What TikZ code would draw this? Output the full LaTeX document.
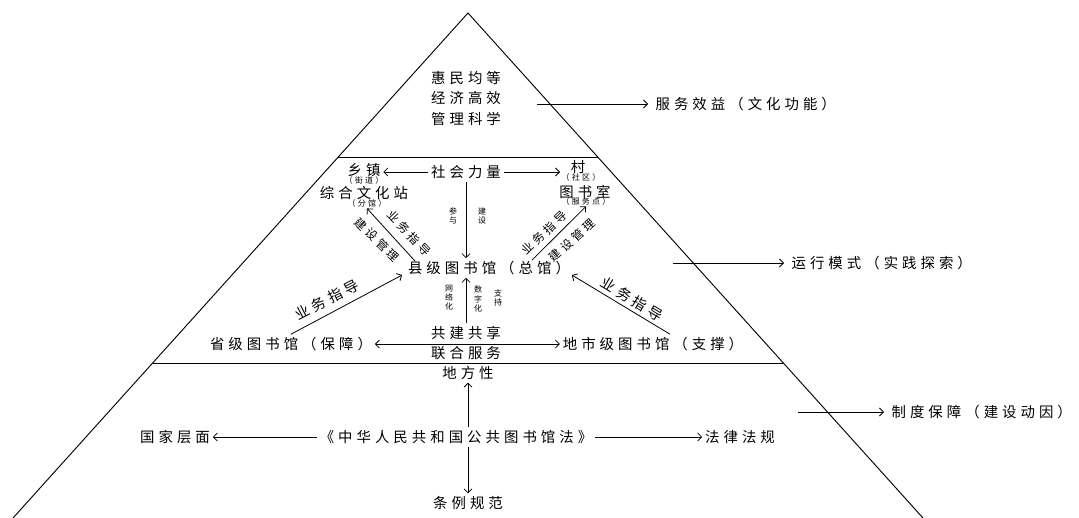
\documentclass[tikz,border=0pt]{standalone}
\usepackage{fontspec}
\usetikzlibrary{arrows.meta,calc}
\newfontfamily\cjk[LetterSpace=28]{Noto Sans CJK SC}
\newfontfamily\cjktight{Noto Sans CJK SC}

\begin{document}
\begin{tikzpicture}[x=0.75pt,y=-0.75pt,
    lbl/.style={font={\cjk\fontsize{10.8}{13}\selectfont},inner sep=2pt},
    side/.style={lbl,anchor=west,inner xsep=5.5pt},
    sublbl/.style={font={\cjk\fontsize{6}{7}\selectfont},inner sep=1pt},
    tiny/.style={font={\cjktight\fontsize{6}{6.8}\selectfont},align=center,inner sep=0pt},
    slant/.style={font={\cjk\fontsize{8.8}{10}\selectfont},inner sep=0pt},
    arr/.style={-{Straight Barb[length=3pt,width=6pt]},line width=0.6pt},
    dbl/.style={{Straight Barb[length=3pt,width=6pt]}-{Straight Barb[length=3pt,width=6pt]},line width=0.6pt},
    rim/.style={line width=0.7pt},
  ]
  \useasboundingbox (0,0) rectangle (1079,518);
  \coordinate (apex) at (468,13);
  \coordinate (bl) at (13,518);
  \coordinate (br) at (923,518);
  \draw[rim] (bl) -- (apex) -- (br);
  \draw[rim] ($(apex)!0.2851!(bl)$) -- ($(apex)!0.2851!(br)$);
  \draw[rim] ($(apex)!0.6931!(bl)$) -- ($(apex)!0.6931!(br)$);

  \foreach \t [count=\i] in {惠民均等,经济高效,管理科学}
    \node[lbl] (goal\i) at (466,{57.5+20.5*\i}) {\t};

  \foreach \nm/\sx/\ex/\y/\t in {benefit/537/648/104/服务效益（文化功能）,
      mode/673/784/263/运行模式（实践探索）,
      system/798/884/412/制度保障（建设动因）} {
    \coordinate (\nm0) at (\sx,\y);
    \node[side] (\nm) at (\ex,\y) {\t};
    \draw[arr] (\nm0) -- (\nm.west);
  }

  \node[lbl] (society) at (466,172) {社会力量};
  \node[lbl] (town) at (364,170) {乡镇};
  \node[sublbl] (townsub) at (364,180) {（街道）};
  \node[lbl] (village) at (578,167) {村};
  \node[sublbl] (villagesub) at (581,177) {（社区）};
  \node[lbl] (station) at (364,193) {综合文化站};
  \node[sublbl] (stationsub) at (367,203) {（分馆）};
  \node[lbl] (room) at (585,192) {图书室};
  \node[sublbl] (roomsub) at (586,201) {（服务点）};
  \node[lbl] (county) at (489,268) {县级图书馆（总馆）};

  \draw[arr] (society.west) -- (society.west -| town.east);
  \draw[arr] (society.east) -- (society.east -| villagesub.west);
  \draw[arr] (society.south) -- (society.south |- county.north);
  \node[tiny] (join) at (453,216) {参\\与};
  \node[tiny] (build) at (482,216) {建\\设};

  \draw[arr] ($(county.north west)+(10,3)$) -- (stationsub.south);
  \node[slant,rotate=-46] (guide1) at (409,233) {业务指导};
  \node[slant,rotate=-44] (manage1) at (377,240) {建设管理};
  \draw[arr] ($(county.north east)+(-41,2)$) -- (roomsub.south);
  \node[slant,rotate=44] (guide2) at (544,233) {业务指导};
  \node[slant,rotate=42] (manage2) at (572,240) {建设管理};

  \node[lbl] (province) at (291,344) {省级图书馆（保障）};
  \node[lbl] (city) at (653,344) {地市级图书馆（支撑）};
  \node[lbl] (share) at (466,333) {共建共享};
  \node[lbl] (union) at (466,353) {联合服务};
  \draw[dbl] (province.east) -- (city.west);
  \draw[arr] (share.north) -- (share.north |- county.south);
  \node[tiny] (net) at (449,298) {网\\络\\化};
  \node[tiny] (digit) at (478,299) {数\\字\\化};
  \node[tiny] (support) at (498,298) {支\\持};
  \draw[arr] (province.north) -- ($(county.west)+(-3,7)$);
  \node[lbl,rotate=27] (guide3) at (327,300) {业务指导};
  \draw[arr] ($(city.north)+(17,0)$) -- ($(county.east)+(-1,7)$);
  \node[lbl,rotate=-31] (guide4) at (632,299) {业务指导};

  \node[lbl] (local) at (468,373) {地方性};
  \node[lbl] (law) at (456,437) {《中华人民共和国公共图书馆法》};
  \node[lbl] (nation) at (175,437) {国家层面};
  \node[lbl] (legal) at (740,437) {法律法规};
  \node[lbl] (rule) at (468,503) {条例规范};
  \draw[arr] (law.west) -- (nation.east);
  \draw[arr] (law.east) -- (legal.west);
  \draw[arr] (law.north -| local) -- (local.south);
  \draw[arr] (law.south -| rule) -- (rule.north);
\end{tikzpicture}
\end{document}
